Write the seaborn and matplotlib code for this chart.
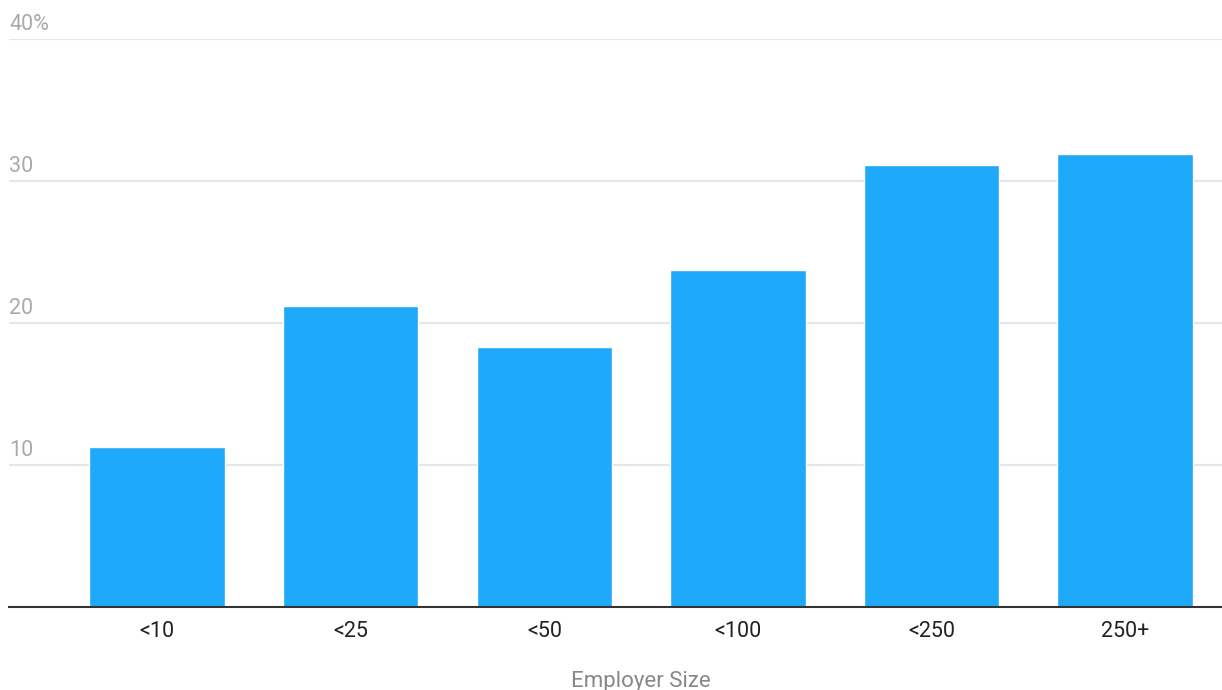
import matplotlib
matplotlib.use("Agg")
import matplotlib.pyplot as plt
import seaborn as sns
import pandas as pd

categories = ["<10", "<25", "<50", "<100", "<250", "250+"]
values = [11.3, 21.2, 18.3, 23.7, 31.1, 31.9]
y_ticks = [10, 20, 30, 40]
y_tick_labels = ["10", "20", "30", "40%"]

sns.set_theme(style="white")
plt.rcParams["font.family"] = ["Roboto", "DejaVu Sans"]

df = pd.DataFrame({"size": categories, "share": values})

W, H = 1222, 690
fig = plt.figure(figsize=(W / 100, H / 100), dpi=100)
ax = fig.add_axes([9 / W, 83 / H, (W - 9) / W, (607 - 39) / H])

sns.barplot(data=df, x="size", y="share", color="#1EA9FA", saturation=1,
            width=0.70, ax=ax, zorder=3)

ax.set_ylim(0, 40)
ax.set_xlim(-0.765, 5.5)

for t in y_ticks:
    ax.axhline(t, color="#e6e6e6", lw=1.5, zorder=1)
ax.set_yticks([])
for t, lab in zip(y_ticks, y_tick_labels):
    ax.annotate(lab, xy=(0, t), xycoords=("axes fraction", "data"),
                xytext=(0, 3), textcoords="offset points",
                ha="left", va="bottom", fontsize=15.5, color="#aaaaaa")

for s in ["top", "right", "left"]:
    ax.spines[s].set_visible(False)
ax.spines["bottom"].set_color("#333333")
ax.spines["bottom"].set_linewidth(1.5)
ax.spines["bottom"].set_zorder(4)

ax.tick_params(axis="x", length=0, pad=10, labelsize=15.5, labelcolor="#222222")
ax.set_xlabel("Employer Size", fontsize=16, color="#888888")
ax.xaxis.set_label_coords((641 - 9) / (W - 9), -(681 - 607) / (607 - 39))
ax.xaxis.label.set_va("center")
ax.set_ylabel("")

fig.savefig("out.png", dpi=100)
